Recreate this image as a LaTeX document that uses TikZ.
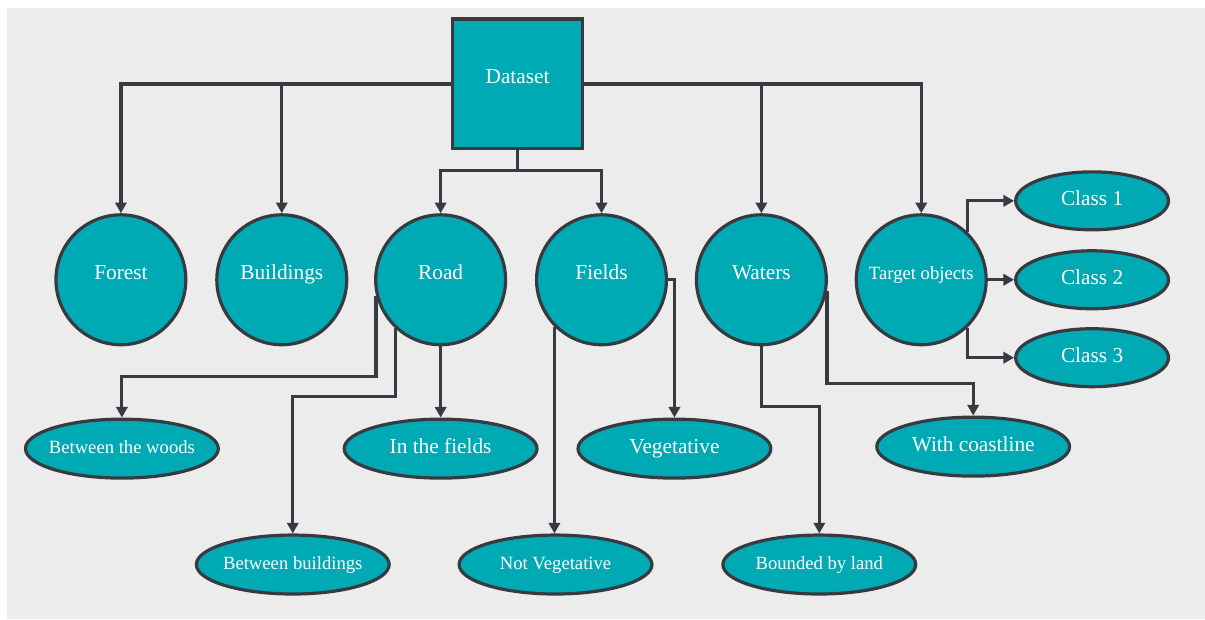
\documentclass[tikz,border=0pt]{standalone}
\usepackage{fontspec}
\setmainfont{Liberation Serif}
\usetikzlibrary{
    arrows.meta,
    shapes.geometric,
    calc,
    positioning
}
\definecolor{boxfill}{RGB}{0,170,181}
\definecolor{edgegray}{RGB}{55,58,65}
\definecolor{backgray}{RGB}{236,236,236}

\begin{document}
\begin{tikzpicture}[x=0.75pt, y=-0.75pt,
    >={Triangle[length=8pt,width=8.5pt]},
    nowidth/.style={execute at begin node={\hbox to 0pt\bgroup\hss},
        execute at end node={\hss\egroup}},
    bigtext/.style={font=\fontsize{16}{19}\selectfont},
    smalltext/.style={font=\fontsize{14}{17}\selectfont},
    root/.style={rectangle, draw=edgegray, fill=boxfill, line width=2.4pt,
        minimum size=97.5pt, inner sep=0pt, text=white, bigtext,
        text height=10pt, text depth=10pt},
    category/.style={circle, draw=edgegray, fill=boxfill, line width=2.4pt,
        minimum size=97.5pt, inner sep=0pt, text=white, bigtext, nowidth,
        text height=10pt, text depth=10pt},
    leaf/.style={ellipse, draw=edgegray, fill=boxfill, line width=2.4pt,
        minimum width=144.75pt, minimum height=44.25pt, inner sep=0pt,
        text=white, bigtext, nowidth, text height=1.5ex, text depth=0pt},
    classleaf/.style={leaf, minimum width=114.75pt, minimum height=43.5pt},
    link/.style={draw=edgegray, line width=2.4pt, ->}
]
    \fill[white] (0,0) rectangle (1205,619);
    \fill[backgray] (7,8) rectangle (1206,620);
    \useasboundingbox (0,0) rectangle (1205,619);

    % top level
    \node[root] (dataset) at (518,84) {Dataset};

    \node[category] (forest) at (121,280) {Forest};
    \node[category] (buildings) at (282,280) {Buildings};
    \node[category] (road) at (441,280) {Road};
    \node[category] (fields) at (602,280) {Fields};
    \node[category] (waters) at (762,280) {Waters};
    \node[category, smalltext] (target) at (922,280) {Target objects};

    % leaves
    \node[classleaf] (class1) at (1093,201) {Class 1};
    \node[classleaf] (class2) at (1093,280) {Class 2};
    \node[classleaf] (class3) at (1093,358) {Class 3};

    \node[leaf, smalltext] (woods) at (122,449) {Between the woods};
    \node[leaf] (infields) at (441,449) {In the fields};
    \node[leaf] (veg) at (675,449) {Vegetative};
    \node[leaf] (coast) at (974,447) {With coastline};
    \node[leaf, smalltext] (btwbuild) at (293,565) {Between buildings};
    \node[leaf, smalltext] (notveg) at (556,565) {Not Vegetative};
    \node[leaf, smalltext] (bounded) at (820,565) {Bounded by land};

    % bends
    \coordinate (split) at (518,171);
    \coordinate (roadbend1) at (122,377);
    \coordinate (roadbend2) at (293,397);
    \coordinate (waterbend1) at (820,407);
    \coordinate (waterbend2) at (974,384);

    \draw[link] (dataset.west) -| (forest.north);
    \draw[link] (dataset.west) -| (buildings.north);
    \draw[link] (dataset.east) -| (waters.north);
    \draw[link] (dataset.east) -| (target.north);
    \draw[link] (dataset.south) -- (split) -| (road.north);
    \draw[link] (split) -| (fields.north);

    \draw[link] (target.46) |- (class1.west);
    \draw[link] (target.east) -- (class2.west);
    \draw[link] (target.-46) |- (class3.west);

    \draw[link] (road.194) |- (roadbend1) -- (woods.north);
    \draw[link] (road.227) |- (roadbend2) -- (btwbuild.north);
    \draw[link] (road.south) -- (infields.north);

    \draw[link] (fields.east) -| (veg.north);
    \draw[link] (fields.225) -- (fields.225 |- notveg.north);

    \draw[link] (waters.south) |- (waterbend1) -- (bounded.north);
    \draw[link] (waters.-10) |- (waterbend2) -- (coast.north);
\end{tikzpicture}
\end{document}
